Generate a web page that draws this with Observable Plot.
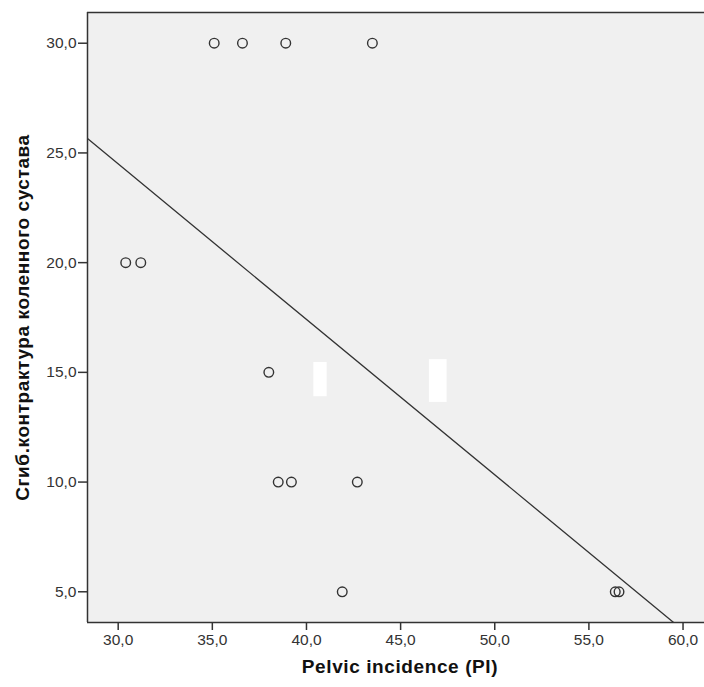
<!DOCTYPE html>
<html>
<head>
<meta charset="utf-8">
<script src="https://cdn.jsdelivr.net/npm/d3@7"></script>
<script src="https://cdn.jsdelivr.net/npm/@observablehq/plot@0.6"></script>
<style>
  html, body { margin: 0; padding: 0; background: #ffffff; }
  #chart { width: 704px; height: 687px; }
  .axis-title text { letter-spacing: 0.6px; }
</style>
</head>
<body>
<div id="chart"></div>
<script>
// Pelvic incidence (PI) values and knee flexion contracture values
const pelvicIncidence = [35.1, 36.6, 38.9, 43.5, 30.4, 31.2, 38.0, 38.5, 39.2, 42.7, 41.9, 56.4, 56.6];
const kneeContracture = [30, 30, 30, 30, 20, 20, 15, 10, 10, 10, 5, 5, 5];

const xTicks = [30, 35, 40, 45, 50, 55, 60];
const yTicks = [5, 10, 15, 20, 25, 30];
const xDomain = [28.37, 61.14];
const yDomain = [3.6, 31.4];

const xTitle = "Pelvic incidence (PI)";
const yTitle = "Сгиб.контрактура коленного сустава";

// white masked patches visible in the reference (data units)
const maskX1 = [40.39, 46.53];
const maskX2 = [41.1, 47.47];
const maskY1 = [13.89, 13.63];
const maskY2 = [15.45, 15.58];

const points = pelvicIncidence.map((x, i) => ({x, y: kneeContracture[i]}));
const masks = maskX1.map((x1, i) => ({x1, x2: maskX2[i], y1: maskY1[i], y2: maskY2[i]}));

// ordinary least squares fit
const mx = d3.mean(points, d => d.x);
const my = d3.mean(points, d => d.y);
const sxy = d3.sum(points, d => (d.x - mx) * (d.y - my));
const sxx = d3.sum(points, d => (d.x - mx) ** 2);
const slope = sxy / sxx;
const intercept = my - slope * mx;

const fmt = d => d.toFixed(1).replace(".", ",");
const ink = "#333333";

const chart = Plot.plot({
  width: 704,
  height: 687,
  marginLeft: 87,
  marginRight: 0,
  marginTop: 12,
  marginBottom: 65,
  style: {fontFamily: "'Liberation Sans', Arial, sans-serif", background: "#ffffff", color: ink},
  x: {domain: xDomain, label: null},
  y: {domain: yDomain, label: null},
  marks: [
    Plot.frame({fill: "#f0f0f0", stroke: null}),
    Plot.rect(masks, {x1: "x1", x2: "x2", y1: "y1", y2: "y2", fill: "#ffffff"}),
    Plot.line(xDomain, {x: d => d, y: d => intercept + slope * d, stroke: ink, strokeWidth: 1.3, clip: true}),
    Plot.dot(points, {x: "x", y: "y", r: 4.8, stroke: ink, strokeWidth: 1.4, fill: "none"}),
    Plot.ruleY([yDomain[1]], {stroke: ink, strokeWidth: 1.5}),
    Plot.ruleY([yDomain[0]], {stroke: ink, strokeWidth: 1.5}),
    Plot.ruleX([xDomain[0]], {stroke: ink, strokeWidth: 1.5}),
    Plot.axisX({ticks: xTicks, tickFormat: fmt, tickSize: 8, tickPadding: 3, fontSize: 15.5, stroke: ink, strokeWidth: 1.5, label: null}),
    Plot.axisY({ticks: yTicks, tickFormat: fmt, tickSize: 9, tickPadding: 2, fontSize: 15.5, stroke: ink, strokeWidth: 1.5, label: null}),
    Plot.text([xTitle], {frameAnchor: "bottom", dx: 4, dy: 50, text: d => d, textAnchor: "middle", fontWeight: "bold", fontSize: 19, fill: "#111111", className: "axis-title"}),
    Plot.text([yTitle], {frameAnchor: "left", dx: -65, rotate: -90, text: d => d, textAnchor: "middle", fontWeight: "bold", fontSize: 19, fill: "#111111", className: "axis-title"})
  ]
});

document.getElementById("chart").appendChild(chart);
</script>
</body>
</html>
